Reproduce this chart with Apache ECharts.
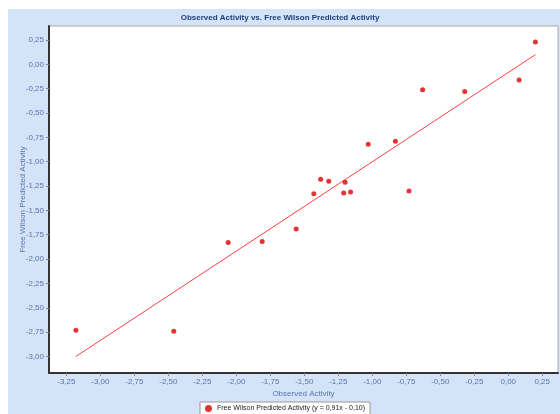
<!DOCTYPE html>
<html><head><meta charset="utf-8">
<script src="https://cdn.jsdelivr.net/npm/echarts@6/dist/echarts.min.js"></script>
<style>html,body{margin:0;padding:0;background:#fff}#c{width:560px;height:414px}</style>
</head><body><div id="c"></div>
<script>
const obsX = [-3.18, -2.46, -2.06, -1.81, -1.56, -1.43, -1.38, -1.32, -1.20, -1.21, -1.16, -1.03, -0.83, -0.73, -0.63, -0.32, 0.08, 0.20];
const predY = [-2.73, -2.74, -1.83, -1.82, -1.69, -1.33, -1.18, -1.20, -1.21, -1.32, -1.31, -0.82, -0.79, -1.30, -0.26, -0.28, -0.16, 0.23];
const fitX = [-3.18, 0.20];
const fitY = [-3.00, 0.10];
const xTicks = [-3.25, -3.00, -2.75, -2.50, -2.25, -2.00, -1.75, -1.50, -1.25, -1.00, -0.75, -0.50, -0.25, 0.00, 0.25];
const yTicks = [0.25, 0.00, -0.25, -0.50, -0.75, -1.00, -1.25, -1.50, -1.75, -2.00, -2.25, -2.50, -2.75, -3.00];
const titleText = 'Observed Activity vs. Free Wilson Predicted Activity';
const xName = 'Observed Activity';
const yName = 'Free Wilson Predicted Activity';
const seriesName = 'Free Wilson Predicted Activity (y = 0,91x - 0,10)';

const fmt = v => (Math.abs(v) < 1e-9 ? 0 : v).toFixed(2).replace('.', ',');
const labelColor = '#5a76ad';
const chart = echarts.init(document.getElementById('c'));
chart.setOption({
  backgroundColor: '#ffffff',
  animation: false,
  graphic: [{type: 'rect', z: -10, shape: {x: 8, y: 9, width: 552, height: 405}, style: {fill: '#d4e3f7'}}],
  title: {text: titleText, left: 'center', top: 14, padding: 0,
    textStyle: {fontFamily: 'Liberation Sans', fontSize: 8, fontWeight: 'bold', color: '#22407a'}},
  grid: {left: 49, top: 26, right: 2, bottom: 41, show: true, backgroundColor: '#ffffff', borderColor: '#a8a8a8', borderWidth: 1},
  legend: {data: [seriesName], left: 200, top: 402, padding: [3, 5], itemWidth: 7, itemHeight: 7, itemGap: 4,
    backgroundColor: '#ffffff', borderColor: '#999999', borderWidth: 1, borderRadius: 0,
    icon: 'circle', textStyle: {fontFamily: 'Liberation Sans', fontSize: 7, color: '#222'}},
  xAxis: {type: 'value', min: -3.378, max: 0.366, name: xName, nameLocation: 'middle', nameGap: 17,
    nameMoveOverlap: false,
    nameTextStyle: {fontFamily: 'Liberation Sans', fontSize: 8, color: labelColor},
    splitLine: {show: false},
    axisLine: {show: true, onZero: false, lineStyle: {color: '#333', width: 2}},
    axisTick: {show: true, length: 3, customValues: xTicks, lineStyle: {color: '#888'}},
    axisLabel: {customValues: xTicks, formatter: fmt, fontFamily: 'Liberation Sans', fontSize: 8, color: labelColor, margin: 5}},
  yAxis: {type: 'value', min: -3.170, max: 0.394, name: yName, nameLocation: 'middle', nameGap: 22, nameRotate: 90,
    nameMoveOverlap: false,
    nameTextStyle: {fontFamily: 'Liberation Sans', fontSize: 8, color: labelColor},
    splitLine: {show: false},
    axisLine: {show: true, onZero: false, lineStyle: {color: '#333', width: 2}},
    axisTick: {show: true, length: 3, customValues: yTicks, lineStyle: {color: '#888'}},
    axisLabel: {customValues: yTicks, formatter: fmt, fontFamily: 'Liberation Sans', fontSize: 8, color: labelColor, margin: 5}},
  series: [
    {name: seriesName, type: 'scatter', symbol: 'circle', symbolSize: 5, itemStyle: {color: '#e00000'},
     data: obsX.map((x, i) => [x, predY[i]]), z: 3},
    {name: 'fit', type: 'line', symbol: 'none', lineStyle: {color: '#ff4040', width: 1},
     data: fitX.map((x, i) => [x, fitY[i]]), z: 2}
  ]
});
</script></body></html>
